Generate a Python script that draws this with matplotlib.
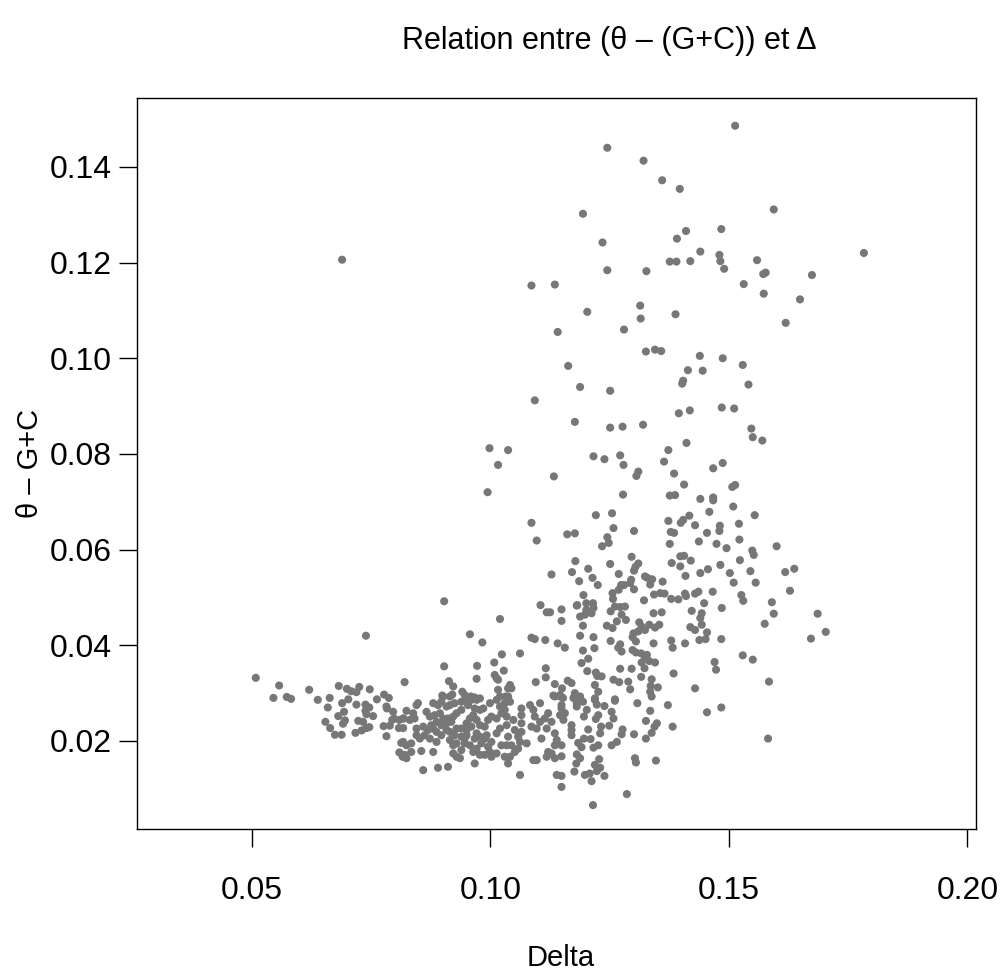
import matplotlib
matplotlib.use("Agg")
import matplotlib.pyplot as plt
import numpy as np

# (Delta, theta - (G+C)), par zone du nuage
haut = [
    (0.0689, 0.1206), (0.1086, 0.1152), (0.1135, 0.1154), (0.1141, 0.1055), (0.1093, 0.0912),
    (0.0998, 0.0812), (0.1037, 0.0808),
    (0.1513, 0.1486), (0.1245, 0.1440), (0.1321, 0.1413), (0.1360, 0.1372), (0.1397, 0.1354),
    (0.1194, 0.1302), (0.1594, 0.1311), (0.1410, 0.1266), (0.1391, 0.1250), (0.1484, 0.1270),
    (0.1235, 0.1242), (0.1440, 0.1223), (0.1480, 0.1216), (0.1783, 0.1220), (0.1376, 0.1202),
    (0.1390, 0.1202), (0.1419, 0.1203), (0.1482, 0.1203), (0.1559, 0.1205), (0.1245, 0.1184),
    (0.1327, 0.1182), (0.1490, 0.1187), (0.1572, 0.1176), (0.1577, 0.1179), (0.1674, 0.1174),
    (0.1531, 0.1155), (0.1573, 0.1135), (0.1649, 0.1123), (0.1203, 0.1097), (0.1314, 0.1110),
    (0.1315, 0.1083), (0.1388, 0.1092), (0.1619, 0.1074), (0.1280, 0.1060), (0.1326, 0.1014),
    (0.1345, 0.1018), (0.1358, 0.1015), (0.1439, 0.1005), (0.1487, 0.1000), (0.1529, 0.0986),
    (0.1163, 0.0984), (0.1414, 0.0975), (0.1445, 0.0974), (0.1404, 0.0953), (0.1402, 0.0947),
    (0.1541, 0.0945), (0.1188, 0.0940), (0.1251, 0.0932), (0.1177, 0.0867), (0.1251, 0.0855),
    (0.1277, 0.0857), (0.1320, 0.0861), (0.1395, 0.0885), (0.1418, 0.0891), (0.1485, 0.0897),
    (0.1511, 0.0895), (0.1547, 0.0853), (0.1550, 0.0835), (0.1570, 0.0828), (0.1411, 0.0823),
    (0.1373, 0.0808),
]

milieu = [
    (0.1016, 0.0777), (0.1133, 0.0753), (0.0994, 0.0720), (0.1086, 0.0656), (0.1097, 0.0619),
    (0.1128, 0.0548), (0.0903, 0.0492), (0.1105, 0.0484),
    (0.1216, 0.0795), (0.1239, 0.0789), (0.1272, 0.0797), (0.1279, 0.0777), (0.1364, 0.0784),
    (0.1306, 0.0754), (0.1310, 0.0763), (0.1385, 0.0759), (0.1467, 0.0770), (0.1487, 0.0781),
    (0.1406, 0.0736), (0.1507, 0.0731), (0.1513, 0.0735), (0.1278, 0.0715), (0.1376, 0.0713),
    (0.1387, 0.0714), (0.1440, 0.0706), (0.1467, 0.0709), (0.1467, 0.0703), (0.1509, 0.0690),
    (0.1459, 0.0679), (0.1221, 0.0672), (0.1255, 0.0676), (0.1417, 0.0671), (0.1373, 0.0660),
    (0.1399, 0.0656), (0.1404, 0.0662), (0.1429, 0.0651), (0.1481, 0.0650), (0.1480, 0.0639),
    (0.1521, 0.0654), (0.1554, 0.0672), (0.1258, 0.0645), (0.1301, 0.0639), (0.1161, 0.0632),
    (0.1177, 0.0634), (0.1245, 0.0626), (0.1248, 0.0614), (0.1234, 0.0607), (0.1378, 0.0637),
    (0.1385, 0.0635), (0.1454, 0.0635), (0.1376, 0.0612), (0.1437, 0.0617), (0.1474, 0.0612),
    (0.1495, 0.0603), (0.1522, 0.0621), (0.1549, 0.0598), (0.1552, 0.0589), (0.1600, 0.0607),
    (0.1296, 0.0585), (0.1178, 0.0576), (0.1251, 0.0570), (0.1398, 0.0586), (0.1406, 0.0587),
    (0.1420, 0.0577), (0.1380, 0.0572), (0.1398, 0.0565), (0.1482, 0.0568), (0.1523, 0.0578),
    (0.1310, 0.0571), (0.1304, 0.0564), (0.1301, 0.0556), (0.1171, 0.0553), (0.1205, 0.0560),
    (0.1269, 0.0549), (0.1456, 0.0559), (0.1440, 0.0551), (0.1502, 0.0551), (0.1545, 0.0555),
    (0.1618, 0.0553), (0.1637, 0.0560), (0.1409, 0.0545), (0.1186, 0.0534), (0.1214, 0.0541),
    (0.1225, 0.0526), (0.1295, 0.0537), (0.1324, 0.0544), (0.1329, 0.0541), (0.1339, 0.0538),
    (0.1361, 0.0533), (0.1510, 0.0531), (0.1556, 0.0531), (0.1274, 0.0526), (0.1280, 0.0526),
    (0.1335, 0.0527), (0.1293, 0.0530), (0.1269, 0.0516), (0.1301, 0.0517), (0.1256, 0.0509),
    (0.1195, 0.0505), (0.1343, 0.0506), (0.1356, 0.0509), (0.1365, 0.0508), (0.1408, 0.0508),
    (0.1410, 0.0503), (0.1429, 0.0508), (0.1436, 0.0512), (0.1466, 0.0512), (0.1526, 0.0505),
    (0.1628, 0.0514), (0.1257, 0.0497), (0.1322, 0.0494), (0.1379, 0.0497), (0.1394, 0.0496),
    (0.1448, 0.0488), (0.1530, 0.0493), (0.1590, 0.0490), (0.1201, 0.0488), (0.1215, 0.0488),
    (0.1182, 0.0484),
]

gauche = [
    (0.0739, 0.0420), (0.0508, 0.0332), (0.0557, 0.0316), (0.0620, 0.0307), (0.0682, 0.0315),
    (0.0699, 0.0309), (0.0708, 0.0304), (0.0719, 0.0302), (0.0725, 0.0313), (0.0747, 0.0308),
    (0.0777, 0.0297), (0.0787, 0.0290), (0.0820, 0.0323), (0.0545, 0.0290), (0.0573, 0.0292),
    (0.0582, 0.0288), (0.0638, 0.0286), (0.0663, 0.0290), (0.0702, 0.0287), (0.0762, 0.0287),
    (0.0659, 0.0270), (0.0689, 0.0279), (0.0719, 0.0276), (0.0738, 0.0276), (0.0746, 0.0270),
    (0.0782, 0.0272), (0.0693, 0.0261), (0.0681, 0.0252), (0.0738, 0.0263), (0.0754, 0.0252),
    (0.0740, 0.0256), (0.0695, 0.0243), (0.0691, 0.0236), (0.0723, 0.0242), (0.0733, 0.0240),
    (0.0654, 0.0240), (0.0664, 0.0227), (0.0674, 0.0213), (0.0688, 0.0213), (0.0717, 0.0217),
    (0.0730, 0.0222), (0.0746, 0.0229), (0.0740, 0.0227), (0.0776, 0.0231), (0.0789, 0.0232),
    (0.0782, 0.0210), (0.0783, 0.0268), (0.0796, 0.0261), (0.0794, 0.0244), (0.0798, 0.0247),
    (0.0809, 0.0244), (0.0808, 0.0227), (0.0817, 0.0227), (0.0813, 0.0196), (0.0809, 0.0176),
    (0.0816, 0.0167), (0.0817, 0.0247),
]

centre = [
    (0.1118, 0.0469), (0.1125, 0.0469), (0.1149, 0.0475), (0.1149, 0.0451), (0.1020, 0.0455),
    (0.0957, 0.0423), (0.0983, 0.0406), (0.1086, 0.0416), (0.1093, 0.0413), (0.1115, 0.0411),
    (0.1141, 0.0404), (0.1156, 0.0395), (0.1024, 0.0381), (0.1062, 0.0383), (0.1008, 0.0364),
    (0.0903, 0.0356), (0.0972, 0.0357), (0.1028, 0.0347), (0.1116, 0.0352), (0.1116, 0.0333),
    (0.0913, 0.0325), (0.0922, 0.0314), (0.0971, 0.0330), (0.1009, 0.0338), (0.1013, 0.0331),
    (0.1016, 0.0328), (0.1095, 0.0323), (0.1135, 0.0319), (0.1150, 0.0310), (0.1041, 0.0317),
    (0.1044, 0.0310), (0.1037, 0.0310), (0.0899, 0.0295), (0.0920, 0.0297), (0.0941, 0.0303),
    (0.0946, 0.0296), (0.0959, 0.0293), (0.0967, 0.0291), (0.0978, 0.0289), (0.1016, 0.0307),
    (0.1020, 0.0293), (0.1032, 0.0293), (0.1132, 0.0295), (0.1146, 0.0293),
    (0.0824, 0.0263), (0.0838, 0.0258), (0.0845, 0.0275), (0.0848, 0.0279), (0.0818, 0.0247),
    (0.0831, 0.0244), (0.0841, 0.0247), (0.0845, 0.0226), (0.0859, 0.0230), (0.0869, 0.0223),
    (0.0880, 0.0226), (0.0880, 0.0279), (0.0890, 0.0275), (0.0897, 0.0282), (0.0908, 0.0272),
    (0.0915, 0.0275), (0.0915, 0.0293), (0.0901, 0.0293), (0.0925, 0.0279), (0.0939, 0.0282),
    (0.0950, 0.0289), (0.0960, 0.0286), (0.0971, 0.0286), (0.0953, 0.0275), (0.0939, 0.0265),
    (0.0929, 0.0258), (0.0922, 0.0251), (0.0866, 0.0261), (0.0873, 0.0251), (0.0883, 0.0254),
    (0.0894, 0.0258), (0.0901, 0.0247), (0.0911, 0.0247), (0.0918, 0.0240), (0.0908, 0.0237),
    (0.0897, 0.0233), (0.0887, 0.0219), (0.0897, 0.0212), (0.0915, 0.0219), (0.0925, 0.0212),
    (0.0915, 0.0202), (0.0922, 0.0191), (0.0929, 0.0195), (0.0939, 0.0209), (0.0939, 0.0226),
    (0.0950, 0.0237), (0.0957, 0.0247), (0.0964, 0.0254), (0.0978, 0.0265), (0.0967, 0.0268),
    (0.0985, 0.0268), (0.0999, 0.0279), (0.1013, 0.0286), (0.1020, 0.0272), (0.1030, 0.0279),
    (0.1037, 0.0293), (0.1041, 0.0282), (0.1023, 0.0258), (0.1013, 0.0247), (0.1002, 0.0251),
    (0.0995, 0.0244), (0.0988, 0.0230), (0.0978, 0.0233), (0.0971, 0.0244), (0.0960, 0.0230),
    (0.0950, 0.0223), (0.0946, 0.0205), (0.0946, 0.0195), (0.0957, 0.0191), (0.0964, 0.0177),
    (0.0971, 0.0184), (0.0981, 0.0195), (0.0978, 0.0171), (0.0988, 0.0171), (0.0999, 0.0177),
    (0.0995, 0.0188), (0.0988, 0.0205), (0.1002, 0.0198), (0.1013, 0.0216), (0.1020, 0.0226),
    (0.1034, 0.0233), (0.1034, 0.0251), (0.1030, 0.0265), (0.1048, 0.0244), (0.1051, 0.0223),
    (0.1037, 0.0209), (0.1034, 0.0191), (0.1044, 0.0191), (0.1051, 0.0177), (0.1041, 0.0167),
    (0.1037, 0.0153), (0.1030, 0.0167), (0.1023, 0.0191), (0.1013, 0.0174), (0.1002, 0.0167),
    (0.0992, 0.0212), (0.0978, 0.0209), (0.0971, 0.0216), (0.1065, 0.0268), (0.1065, 0.0254),
    (0.1065, 0.0237), (0.1065, 0.0219), (0.1062, 0.0198), (0.1058, 0.0184), (0.1076, 0.0195),
    (0.1062, 0.0129), (0.1083, 0.0275), (0.1090, 0.0265), (0.1093, 0.0251), (0.1086, 0.0230),
    (0.1097, 0.0226), (0.1104, 0.0240), (0.1107, 0.0205), (0.1114, 0.0247), (0.1118, 0.0226),
    (0.1121, 0.0258), (0.1128, 0.0240), (0.1135, 0.0216), (0.1139, 0.0202), (0.1135, 0.0191),
    (0.1128, 0.0174), (0.1121, 0.0177), (0.1118, 0.0167), (0.1097, 0.0160), (0.1090, 0.0160),
    (0.1135, 0.0164), (0.1146, 0.0254), (0.1149, 0.0275), (0.1146, 0.0296), (0.1135, 0.0293),
    (0.1139, 0.0129), (0.1104, 0.0279), (0.0967, 0.0153), (0.0859, 0.0139), (0.0890, 0.0144),
    (0.0911, 0.0146), (0.0817, 0.0198), (0.0824, 0.0191), (0.0834, 0.0195), (0.0834, 0.0177),
    (0.0820, 0.0171), (0.0824, 0.0164), (0.0855, 0.0179), (0.0845, 0.0212), (0.0852, 0.0205),
    (0.0880, 0.0177), (0.0929, 0.0167), (0.0936, 0.0164), (0.0922, 0.0174), (0.0939, 0.0181),
    (0.0950, 0.0212), (0.0887, 0.0198), (0.0873, 0.0205), (0.0862, 0.0212), (0.0887, 0.0240),
    (0.0876, 0.0233), (0.0908, 0.0223), (0.0929, 0.0226), (0.1058, 0.0209), (0.0967, 0.0205),
]

droite = [
    (0.1181, 0.0483), (0.1201, 0.0474), (0.1216, 0.0478), (0.1261, 0.0481), (0.1272, 0.0480),
    (0.1282, 0.0481), (0.1485, 0.0478), (0.1188, 0.0460), (0.1198, 0.0464), (0.1212, 0.0467),
    (0.1194, 0.0441), (0.1252, 0.0471), (0.1275, 0.0464), (0.1284, 0.0453), (0.1244, 0.0441),
    (0.1256, 0.0436), (0.1265, 0.0450), (0.1312, 0.0448), (0.1317, 0.0439), (0.1333, 0.0443),
    (0.1342, 0.0467), (0.1359, 0.0469), (0.1354, 0.0443), (0.1345, 0.0437), (0.1324, 0.0432),
    (0.1310, 0.0429), (0.1300, 0.0425), (0.1298, 0.0417), (0.1305, 0.0408), (0.1422, 0.0472),
    (0.1443, 0.0467), (0.1440, 0.0457), (0.1419, 0.0438), (0.1429, 0.0432), (0.1443, 0.0443),
    (0.1454, 0.0427), (0.1438, 0.0411), (0.1451, 0.0413), (0.1484, 0.0413), (0.1188, 0.0420),
    (0.1216, 0.0417), (0.1252, 0.0409), (0.1272, 0.0402), (0.1268, 0.0395), (0.1275, 0.0387),
    (0.1342, 0.0404), (0.1379, 0.0410), (0.1382, 0.0395), (0.1408, 0.0404), (0.1194, 0.0389),
    (0.1218, 0.0394), (0.1298, 0.0390), (0.1305, 0.0385), (0.1316, 0.0383), (0.1328, 0.0380),
    (0.1324, 0.0373), (0.1333, 0.0367), (0.1345, 0.0364), (0.1317, 0.0364), (0.1323, 0.0352),
    (0.1205, 0.0372), (0.1191, 0.0363), (0.1203, 0.0346), (0.1221, 0.0343), (0.1224, 0.0336),
    (0.1233, 0.0335), (0.1272, 0.0351), (0.1296, 0.0351), (0.1316, 0.0334), (0.1258, 0.0328),
    (0.1270, 0.0323), (0.1289, 0.0324), (0.1219, 0.0317), (0.1338, 0.0329), (0.1336, 0.0315),
    (0.1351, 0.0312), (0.1384, 0.0341), (0.1470, 0.0365), (0.1473, 0.0349), (0.1429, 0.0310),
    (0.1162, 0.0326), (0.1170, 0.0321), (0.1293, 0.0308), (0.1335, 0.0303), (0.1226, 0.0303),
    (0.1177, 0.0300), (0.1188, 0.0293), (0.1219, 0.0289), (0.1261, 0.0287), (0.1338, 0.0293),
    (0.1594, 0.0466), (0.1575, 0.0445), (0.1686, 0.0466), (0.1703, 0.0428), (0.1672, 0.0414),
    (0.1529, 0.0379), (0.1550, 0.0370), (0.1584, 0.0324), (0.1484, 0.0270), (0.1582, 0.0205),
    (0.1152, 0.0290), (0.1174, 0.0290), (0.1181, 0.0279), (0.1194, 0.0282), (0.1149, 0.0268),
    (0.1156, 0.0258), (0.1153, 0.0244), (0.1181, 0.0272), (0.1202, 0.0265), (0.1196, 0.0251),
    (0.1219, 0.0286), (0.1223, 0.0276), (0.1239, 0.0273), (0.1261, 0.0284), (0.1308, 0.0279),
    (0.1372, 0.0275), (0.1335, 0.0263), (0.1254, 0.0261), (0.1258, 0.0247), (0.1226, 0.0254),
    (0.1221, 0.0246), (0.1326, 0.0242), (0.1349, 0.0237), (0.1344, 0.0230), (0.1382, 0.0230),
    (0.1454, 0.0260), (0.1170, 0.0233), (0.1170, 0.0223), (0.1170, 0.0212), (0.1205, 0.0224),
    (0.1232, 0.0230), (0.1230, 0.0216), (0.1249, 0.0232), (0.1277, 0.0224), (0.1275, 0.0214),
    (0.1301, 0.0214), (0.1326, 0.0205), (0.1338, 0.0217), (0.1149, 0.0191), (0.1184, 0.0196),
    (0.1191, 0.0187), (0.1196, 0.0205), (0.1210, 0.0204), (0.1216, 0.0186), (0.1226, 0.0191),
    (0.1254, 0.0191), (0.1265, 0.0198), (0.1149, 0.0168), (0.1181, 0.0172), (0.1188, 0.0164),
    (0.1180, 0.0153), (0.1228, 0.0162), (0.1219, 0.0150), (0.1230, 0.0144), (0.1303, 0.0164),
    (0.1305, 0.0155), (0.1347, 0.0159), (0.1176, 0.0136), (0.1198, 0.0129), (0.1208, 0.0132),
    (0.1223, 0.0137), (0.1239, 0.0127), (0.1212, 0.0116), (0.1149, 0.0127), (0.1149, 0.0104),
    (0.1286, 0.0089), (0.1215, 0.0066),
]

points = np.array(haut + milieu + gauche + centre + droite)
delta = points[:, 0]
theta_gc = points[:, 1]

plt.rcParams['font.family'] = ['Liberation Sans', 'DejaVu Sans']

W, H = 1003, 974
fig = plt.figure(figsize=(W / 100, H / 100), dpi=100)
ax = fig.add_axes([137 / W, 1 - 829 / H, (976 - 137) / W, (829 - 98) / H])

ax.scatter(delta, theta_gc, s=34, color='#777777', edgecolors='none')

ax.set_xlim(0.0259, 0.2018)
ax.set_ylim(0.0016, 0.1544)
ax.set_xticks([0.05, 0.10, 0.15, 0.20])
ax.set_xticklabels(['0.05', '0.10', '0.15', '0.20'])
ax.set_yticks([0.02, 0.04, 0.06, 0.08, 0.10, 0.12, 0.14])
ax.set_yticklabels(['0.02', '0.04', '0.06', '0.08', '0.10', '0.12', '0.14'])
ax.tick_params(direction='out', length=13, width=1, labelsize=23)
ax.tick_params(axis='x', pad=21)
ax.tick_params(axis='y', pad=5)
for sp in ax.spines.values():
    sp.set_linewidth(1)

fig.text(561 / W, 1 - 958 / H, 'Delta', ha='center', va='center', fontsize=21)
fig.text(30 / W, 1 - 463.5 / H, 'θ – G+C', ha='center', va='center', rotation=90, fontsize=21)
fig.text(609 / W, 1 - 41 / H, 'Relation entre (θ – (G+C)) et Δ', ha='center', va='center', fontsize=22)

fig.savefig('out.png', dpi=100)
